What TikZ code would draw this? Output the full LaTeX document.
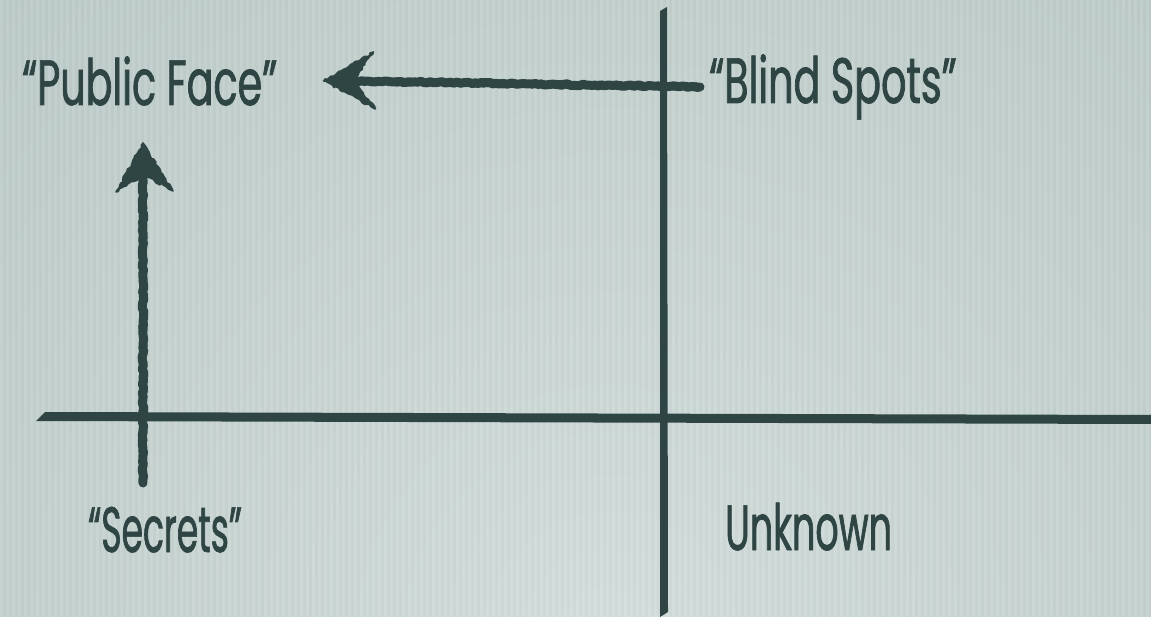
\documentclass[tikz,border=0pt]{standalone}
\usepackage{fontspec}
\setmainfont{Poppins}[FakeStretch=0.62, FakeBold=1.1]
\usetikzlibrary{decorations.pathmorphing}
\definecolor{ink}{HTML}{2E4543}
\definecolor{bglight}{HTML}{D4DEDC}
\definecolor{bgmid}{HTML}{BCCBC9}
\definecolor{bgdark}{HTML}{A7BAB7}
\pgfdeclareradialshading{bgshade}{\pgfpoint{0bp}{0bp}}{color(0bp)=(bglight); color(22bp)=(bgmid); color(45bp)=(bgdark); color(50bp)=(bgdark)}
\tikzset{
  label/.style={inner sep=0pt, anchor=base west, text=ink, font=\fontsize{64}{70}\selectfont},
  chalk/.style={draw=ink, line width=9pt, line cap=round, line join=round,
    decorate, decoration={random steps, segment length=3pt, amplitude=0.8pt}},
  chalkfine/.style={draw=ink, line width=6pt, line cap=round, line join=round,
    decorate, decoration={random steps, segment length=2pt, amplitude=1.8pt}},
  chalkhead/.style={fill=ink, draw=ink, line width=1.5pt, line join=round,
    decorate, decoration={random steps, segment length=2.5pt, amplitude=1.2pt}},
  axis/.style={fill=ink}
}
\begin{document}
\begin{tikzpicture}[x=1pt,y=-1pt]
\useasboundingbox (0,0) rectangle (1151,617);
% background
\fill[bgdark] (0,0) rectangle (1151,617);
\begin{scope}
  \clip (0,0) rectangle (1151,617);
  \shade[shading=bgshade] (610,640) circle (1000);
  \foreach \x in {0,6,...,1150} {
    \fill[white, opacity=0.06] (\x,0) rectangle (\x+3,617);
    \fill[black, opacity=0.015] (\x+3,0) rectangle (\x+6,617);
  }
\end{scope}
% labels
\node[label] (public) at (22,105) {“Public Face”};
\node[label] (blind) at (709,103) {“Blind Spots”};
\node[label] (secrets) at (88,552) {\scalebox{0.87}[1]{“Secrets”}};
\node[label] (unknown) at (725,550) {\scalebox{0.92}[1]{Unknown}};
% connector end points
\coordinate (hstart) at ([xshift=-9pt]blind.west);
\coordinate (hend) at ([xshift=46pt]public.east);
\coordinate (vstart) at (143,483);
\coordinate (vend) at (143,143);
% horizontal axis
\fill[axis] (36,421) -- (45,412) -- (1151,415) -- (1151,424) -- cycle;
% arrows
\pgfmathsetseed{7}
\draw[chalk] (vstart) -- ([yshift=-30pt]vend);
\draw[chalkfine] (vstart) -- ([yshift=-30pt]vend);
\draw[chalkhead] (vend) -- ++(30,48) -- ++(-29,-16) -- ++(-28,17) -- cycle;
\draw[chalk] (hstart) -- ([xshift=30pt]hend);
\draw[chalkfine] (hstart) -- ([xshift=30pt]hend);
\draw[chalkhead] (hend) -- ++(50,-29) -- ++(-20,29) -- ++(22,28) -- cycle;
% vertical axis
\fill[axis] (660,11) -- (667,7) -- (668,612) -- (660,617) -- cycle;
\end{tikzpicture}
\end{document}
